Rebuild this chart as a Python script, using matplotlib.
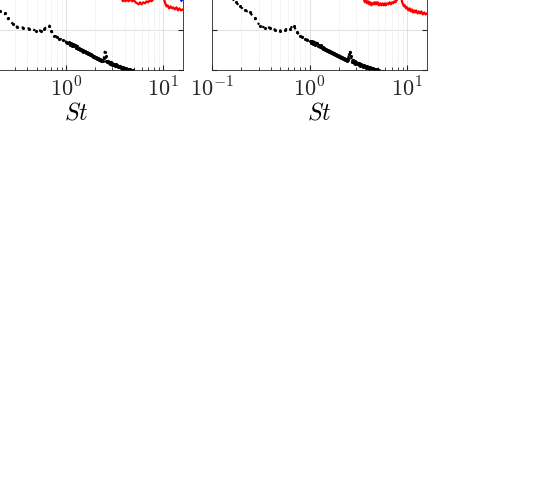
import numpy as np
import matplotlib.pyplot as plt

plt.rcParams['mathtext.fontset'] = 'cm'
plt.rcParams['font.family'] = 'serif'

# spectra (St, level in dB)
st_blk_l = [0.12, 0.15, 0.18, 0.207, 0.233, 0.25, 0.281, 0.309, 0.356, 0.419, 0.494, 0.556,
            0.597, 0.671, 0.703, 0.755, 0.80, 0.849, 0.92,
            1.00, 1.03, 1.06, 1.09, 1.12, 1.15, 1.18, 1.21, 1.24, 1.27, 1.30, 1.33, 1.36,
            1.39, 1.42, 1.45, 1.48, 1.51, 1.55, 1.59, 1.63, 1.67, 1.71, 1.75, 1.79, 1.83,
            1.87, 1.91, 1.95, 2.00, 2.05, 2.10, 2.15, 2.20, 2.25, 2.30, 2.35, 2.40, 2.45,
            2.50, 2.55, 2.60, 2.65, 2.70, 2.75, 2.80, 2.85, 2.90, 2.95, 3.00, 3.06, 3.12,
            3.18, 3.24, 3.30, 3.36, 3.42, 3.48, 3.54, 3.60, 3.67, 3.74, 3.81, 3.88, 3.95,
            4.02, 4.10, 4.18, 4.26, 4.34, 4.42, 4.50, 4.60, 4.70, 4.80, 4.90, 5.00, 5.20,
            5.40, 5.60, 5.80, 6.00, 6.5]
db_blk_l = [-18, -23, -28, -31, -32, -34.5, -37, -38.5, -39, -39.5, -40.5, -40.5,
            -39.5, -38, -40.5, -43, -43.5, -44.5, -45,
            -46, -46.5, -46, -47.5, -46.5, -48, -47, -48, -47.5, -49, -48, -49.5, -49,
            -50, -49.5, -50.5, -50, -51, -50.5, -51.5, -51, -52, -51.5, -52.5, -52, -53,
            -52.5, -53.5, -53, -54, -53.5, -54.5, -54, -55, -54.5, -55.5, -55, -55.5, -54,
            -51, -53, -55.5, -56, -55.5, -56.5, -56, -57, -56, -57.5, -56.5, -57.5, -57,
            -58, -57, -58, -57.5, -58.5, -58, -58.5, -58, -59, -58.5, -59.5, -58.5, -59.5,
            -59, -60, -59, -60, -59.5, -60.5, -59.5, -60.5, -60, -61, -60, -61, -61,
            -61.5, -62, -62.5, -63, -64]

st_red_l = [2.9, 3.3, 3.6, 3.73, 3.85, 3.95, 4.1, 4.25, 4.4, 4.6, 4.8, 5.0, 5.2, 5.4, 5.6,
            5.8, 6.0, 6.25, 6.5, 6.75, 7.0, 7.3, 7.6, 7.9, 8.2, 8.5, 8.9, 9.3, 9.7, 10.0,
            10.2, 10.5, 10.8, 11.1, 11.5, 11.9, 12.3, 12.7, 13.2, 13.7, 14.2, 14.7, 15.3,
            16.0]
db_red_l = [-12, -18, -23, -24.5, -26, -25, -26, -25, -26, -25, -26, -25.5, -26.5, -27,
            -27.5, -26.5, -27.5, -26.5, -27, -26, -26.5, -25.5, -26, -25, -24.5, -23, -20,
            -19, -20, -22, -25, -27, -28.5, -28, -29.5, -28.5, -29.5, -29, -30, -29,
            -30.5, -29.5, -30.5, -30]

st_blue_l = [15.2, 15.4]
db_blue_l = [-18, -24.5]

st_blk_r = [0.13, 0.145, 0.160, 0.176, 0.193, 0.217, 0.244, 0.275, 0.309, 0.347, 0.391, 0.440,
            0.494, 0.556, 0.625, 0.687, 0.737, 0.791, 0.84, 0.889, 0.95,
            1.00, 1.03, 1.06, 1.09, 1.12, 1.15, 1.18, 1.21, 1.24, 1.27, 1.30, 1.33, 1.36,
            1.39, 1.42, 1.45, 1.48, 1.51, 1.55, 1.59, 1.63, 1.67, 1.71, 1.75, 1.79, 1.83,
            1.87, 1.91, 1.95, 2.00, 2.05, 2.10, 2.15, 2.20, 2.25, 2.30, 2.35, 2.40, 2.45,
            2.50, 2.55, 2.60, 2.65, 2.70, 2.75, 2.80, 2.85, 2.90, 2.95, 3.00, 3.06, 3.12,
            3.18, 3.24, 3.30, 3.36, 3.42, 3.48, 3.54, 3.60, 3.67, 3.74, 3.81, 3.88, 3.95,
            4.02, 4.10, 4.18, 4.26, 4.34, 4.42, 4.50, 4.60, 4.70, 4.80, 4.90, 5.00, 5.20,
            5.40, 5.60, 5.80, 6.00, 6.5]
db_blk_r = [-16, -20, -24.5, -26.5, -28.5, -30.5, -31.5, -34.5, -38, -39, -39, -40,
            -40.5, -40, -39.5, -38, -41, -43, -43.5, -44.5, -45,
            -45.5, -46.5, -45.5, -47, -46, -47.5, -46.5, -48, -47.5, -48.5, -47.5, -49, -48.5,
            -49.5, -49, -50, -49.5, -50.5, -50, -51, -50.5, -51.5, -51, -52, -51.5, -52.5,
            -52, -53, -52.5, -53.5, -53, -54, -53.5, -54.5, -54, -55, -54.5, -55.5, -55,
            -54, -52, -51, -53, -55.5, -56, -55, -56.5, -55.5, -57, -56, -57, -56.5,
            -57.5, -56.5, -58, -57, -58, -57.5, -58.5, -57.5, -58.5, -58, -59, -58, -59,
            -58.5, -59.5, -58.5, -59.5, -59, -60, -59, -60, -59.5, -60.5, -59.5, -60.5, -60,
            -61, -60.5, -61, -62, -64]

st_red_r = [2.9, 3.30, 3.45, 3.60, 3.70, 3.80, 3.90, 4.00, 4.10, 4.20, 4.30, 4.40, 4.50,
            4.60, 4.70, 4.80, 4.90, 5.00, 5.15, 5.30, 5.45, 5.60, 5.75, 5.90, 6.05, 6.20,
            6.40, 6.60, 6.80, 7.00, 7.20, 7.40, 7.60, 7.80, 8.00, 8.20, 8.40, 8.55, 8.70,
            8.90, 9.10, 9.30, 9.50, 9.75, 10.0, 10.3, 10.6, 10.9, 11.2, 11.5, 11.8, 12.1,
            12.4, 12.8, 13.2, 13.6, 14.0, 14.5, 15.0, 15.5, 16.0]
db_red_r = [-12, -20, -23, -25, -26.5, -25.5, -27, -26, -27.5, -26.5, -28, -27, -27.5,
            -26.5, -27.5, -26.5, -27.5, -26.5, -28, -27, -28, -27, -28, -27, -28, -27,
            -27.5, -26.5, -27.5, -26.5, -27, -26, -26.5, -25.5, -25, -23, -20, -21, -24,
            -26.5, -27.5, -28.5, -28, -29.5, -29, -30.5, -29.5, -31, -30, -31.5, -30.5, -31.5,
            -30.5, -32, -31, -32, -31, -32.5, -31.5, -32.5, -32]

xticks = [0.1, 1, 10]
xticklabels = ['$10^{-1}$', '$10^{0}$', '$10^{1}$']
yticks = [-60, -40, -20, 0, 20, 40]

fig = plt.figure(figsize=(5.4, 4.81), dpi=100)
ax_l = fig.add_axes([-31/540, 0.8524, 214/540, 0.42])
ax_r = fig.add_axes([212/540, 0.8524, 215/540, 0.42])

ax_l.plot(st_blk_l, db_blk_l, ls=':', lw=1.6, marker='.', ms=2.5, c='k')
ax_l.plot(st_red_l, db_red_l, ls='-', lw=1.6, c='r')
ax_l.plot(st_blue_l, db_blue_l, ls='-', marker='v', ms=4, lw=1.2, c='b')
ax_r.plot(st_blk_r, db_blk_r, ls=':', lw=1.6, marker='.', ms=2.5, c='k')
ax_r.plot(st_red_r, db_red_r, ls='-', lw=1.6, c='r')

for ax in (ax_l, ax_r):
    ax.set_xscale('log')
    ax.set_xticks(xticks)
    ax.set_xticklabels(xticklabels)
    ax.set_yticks(yticks)
    ax.set_xlim(0.1, 16)
    ax.set_ylim(-60, 40)
    ax.tick_params(which='both', direction='in', top=True, right=True,
                   labelsize=16, colors='#262626', pad=5)
    ax.tick_params(axis='y', labelleft=False)
    ax.grid(which='major', color='#dcdcdc', lw=0.6)
    ax.grid(which='minor', axis='x', color='#dcdcdc', lw=0.6, ls=':')
    ax.set_xlabel('$St$', fontsize=17, labelpad=0)
    for s in ax.spines.values():
        s.set_color('#262626')
        s.set_linewidth(0.6)
    ax.set_axisbelow(True)

fig.savefig('out.png', dpi=100)
